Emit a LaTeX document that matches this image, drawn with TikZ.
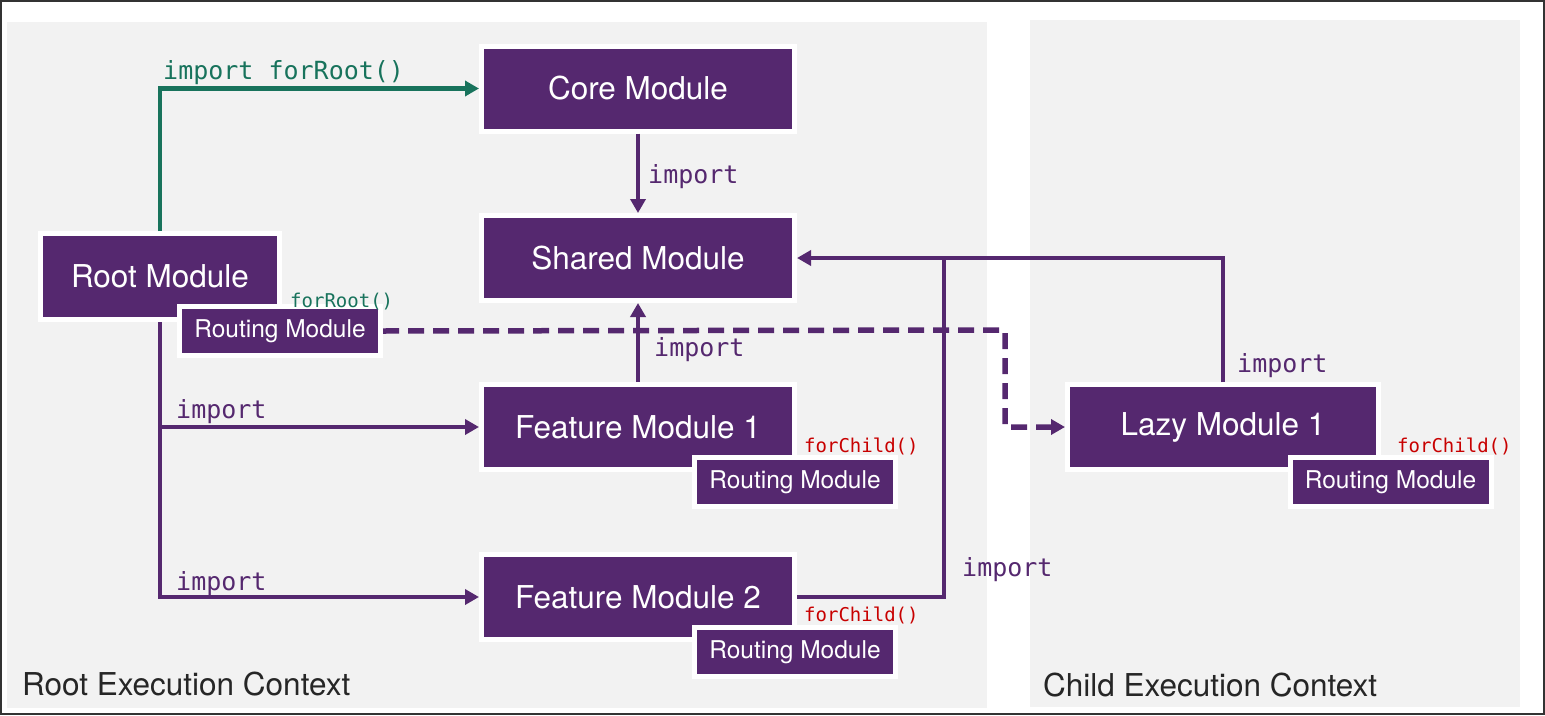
\documentclass[tikz,border=0pt]{standalone}
\usepackage{fontspec}
\setmainfont{TeX Gyre Heros}
\newfontfamily\codefont{DejaVu Sans Mono}
\usepackage{tikz}
\usepackage{color}
\usetikzlibrary{arrows.meta,shadows}

\definecolor{modpurple}{RGB}{85,40,111}
\definecolor{ctxgray}{RGB}{242,242,242}
\definecolor{rootgreen}{RGB}{24,115,92}
\definecolor{childred}{RGB}{200,0,0}
\definecolor{ctxtext}{RGB}{38,38,38}

\begin{document}
\begin{tikzpicture}[x=1pt,y=-1pt,
  module/.style={rectangle,fill=modpurple,draw=white,line width=5pt,text=white,
    minimum width=313pt,minimum height=85pt,inner sep=0pt,
    font=\fontsize{31.5}{36}\selectfont,
    drop shadow={opacity=0.25,shadow xshift=2pt,shadow yshift=-2pt}},
  routing/.style={module,minimum width=201pt,minimum height=49pt,
    font=\fontsize{24.5}{28}\selectfont},
  link/.style={draw=modpurple,line width=4.5pt,-{Triangle[length=14pt,width=15pt]}},
  rootlink/.style={link,draw=rootgreen,line width=4.5pt},
  lazylink/.style={link,line width=5.5pt,dash pattern=on 16pt off 9pt},
  codelabel/.style={anchor=base west,inner sep=0pt,text=modpurple,
    font=\codefont\fontsize{25}{30}\selectfont},
  smallcode/.style={codelabel,font=\codefont\fontsize{19}{22}\selectfont},
  ctxlabel/.style={anchor=base west,inner sep=0pt,text=ctxtext,
    font=\fontsize{31.5}{36}\selectfont}]
\useasboundingbox (0,0) rectangle (1545,715);
\draw[line width=2pt,draw=black!80] (1,1) rectangle (1544,714);
% execution contexts
\fill[ctxgray] (7,22) rectangle (987,708);
\fill[ctxgray] (1030,20) rectangle (1520,707);
\node[ctxlabel] (rootctx) at (22,695) {Root Execution Context};
\node[ctxlabel] (childctx) at (1043,696) {Child Execution Context};

% modules
\node[module] (core) at (638,88.5) {Core Module};
\node[module] (shared) at (638,258) {Shared Module};
\node[module,minimum width=239pt,minimum height=86pt] (root) at (160,276.5) {Root Module};
\node[routing] (rootroute) at (280,331) {Routing Module};
\node[smallcode,text=rootgreen] (forroot) at (290,307) {forRoot()};
\node[module] (fm1) at (638,427) {Feature Module 1};
\node[smallcode,text=childred] (forchild1) at (804,452) {forChild()};
\node[routing] (fm1route) at (795,482) {Routing Module};
\node[module] (fm2) at (638,597) {Feature Module 2};
\node[smallcode,text=childred] (forchild2) at (804,621) {forChild()};
\node[routing] (fm2route) at (795,652) {Routing Module};
\node[module,minimum width=311pt] (lazy) at (1223,427) {Lazy Module 1};
\node[smallcode,text=childred] (forchild3) at (1397,452) {forChild()};
\node[routing] (lazyroute) at (1390.5,482) {Routing Module};

% imports
\draw[rootlink] (root.north) |- (core.west);
\node[codelabel,text=rootgreen] (lblroot) at (163,79) {import forRoot()};
\draw[link] (core.south) -- (shared.north);
\node[codelabel] (lblcore) at (648,183) {import};
\draw[link] (fm1.north) -- (shared.south);
\node[codelabel] (lblfm1up) at (654,356) {import};
\draw[link] (root.south) |- (fm1.west);
\draw[link] (root.south) |- (fm2.west);
\node[codelabel] (lblfm1) at (176,418) {import};
\node[codelabel] (lblfm2) at (176,590) {import};
\coordinate (sharedjoin) at (944,258);
\draw[link] (lazy.north) |- (shared.east);
\draw[draw=modpurple,line width=4.5pt] (fm2.east) -| (sharedjoin);
\node[codelabel] (lblfm2up) at (962,576) {import};
\node[codelabel] (lbllazy) at (1237,372) {import};
\coordinate (dashbend) at (1005,330);
\draw[lazylink] (rootroute.east) -- (dashbend) |- (lazy.west);
\end{tikzpicture}
\end{document}
